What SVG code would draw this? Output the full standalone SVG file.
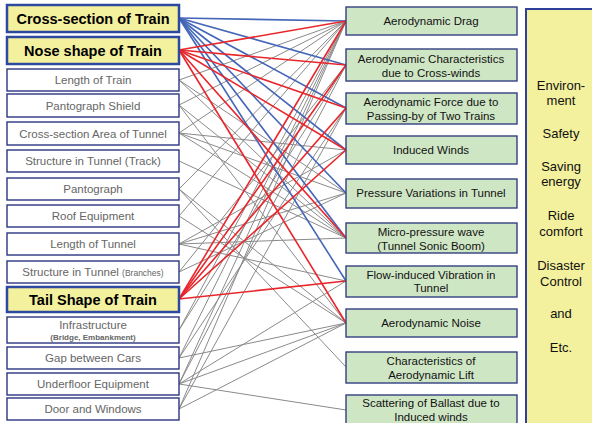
<svg xmlns="http://www.w3.org/2000/svg" width="592" height="423" viewBox="0 0 592 423">
<style>
.bg{fill:#ffffff}
.key rect{fill:#f3f09e;stroke:#2e4a9e;stroke-width:2.5}
.key text{font-family:"Liberation Sans",Arial,sans-serif;font-weight:bold;font-size:14.5px;fill:#000;text-anchor:middle}
.fac rect{fill:#ffffff;stroke:#2b3580;stroke-width:1.4}
.fac text{font-family:"Liberation Sans",Arial,sans-serif;font-size:11.5px;fill:#666;text-anchor:middle}
.fac .sm{font-size:8.5px}
.fac .smb{font-size:8px;font-weight:bold}
.eff rect{fill:#cfe6c5;stroke:#333f80;stroke-width:1.4}
.eff text{font-family:"Liberation Sans",Arial,sans-serif;font-size:11.5px;fill:#111;text-anchor:middle}
.goal rect{fill:#f3f09e;stroke:#2e3f9e;stroke-width:2}
.goal text{font-family:"Liberation Sans",Arial,sans-serif;font-size:13px;fill:#111;text-anchor:middle}
.g line{stroke:#8a8a8a;stroke-width:1}
.b line{stroke:#4466b8;stroke-width:1.6}
.r line{stroke:#e8262b;stroke-width:1.6}
</style>
<rect class="bg" x="0" y="0" width="592" height="423"/>

<g id="connectors">
  <g class="g">
    <line x1="179" y1="80" x2="346" y2="21"/>
    <line x1="179" y1="80" x2="346" y2="193"/>
    <line x1="179" y1="80" x2="346" y2="238"/>
    <line x1="179" y1="105" x2="346" y2="21"/>
    <line x1="179" y1="105" x2="346" y2="238"/>
    <line x1="179" y1="105" x2="346" y2="323"/>
    <line x1="179" y1="133" x2="346" y2="21"/>
    <line x1="179" y1="133" x2="346" y2="150"/>
    <line x1="179" y1="133" x2="346" y2="193"/>
    <line x1="179" y1="133" x2="346" y2="238"/>
    <line x1="179" y1="161" x2="346" y2="238"/>
    <line x1="179" y1="189" x2="346" y2="21"/>
    <line x1="179" y1="189" x2="346" y2="323"/>
    <line x1="179" y1="189" x2="346" y2="367"/>
    <line x1="179" y1="216" x2="346" y2="21"/>
    <line x1="179" y1="216" x2="346" y2="323"/>
    <line x1="179" y1="244" x2="346" y2="150"/>
    <line x1="179" y1="244" x2="346" y2="193"/>
    <line x1="179" y1="244" x2="346" y2="238"/>
    <line x1="179" y1="244" x2="346" y2="281"/>
    <line x1="179" y1="272" x2="346" y2="193"/>
    <line x1="179" y1="272" x2="346" y2="65"/>
    <line x1="179" y1="330" x2="346" y2="21"/>
    <line x1="179" y1="330" x2="346" y2="65"/>
    <line x1="179" y1="358" x2="346" y2="21"/>
    <line x1="179" y1="358" x2="346" y2="108"/>
    <line x1="179" y1="358" x2="346" y2="323"/>
    <line x1="179" y1="384" x2="346" y2="21"/>
    <line x1="179" y1="384" x2="346" y2="65"/>
    <line x1="179" y1="384" x2="346" y2="281"/>
    <line x1="179" y1="384" x2="346" y2="323"/>
    <line x1="179" y1="384" x2="346" y2="410"/>
    <line x1="179" y1="409" x2="346" y2="21"/>
    <line x1="179" y1="409" x2="346" y2="108"/>
    <line x1="179" y1="409" x2="346" y2="323"/>
  </g>
  <g class="b">
    <line x1="179" y1="18" x2="346" y2="21"/>
    <line x1="179" y1="18" x2="346" y2="65"/>
    <line x1="179" y1="18" x2="346" y2="108"/>
    <line x1="179" y1="18" x2="346" y2="150"/>
    <line x1="179" y1="18" x2="346" y2="193"/>
    <line x1="179" y1="18" x2="346" y2="238"/>
    <line x1="179" y1="18" x2="346" y2="281"/>
  </g>
  <g class="r">
    <line x1="179" y1="50" x2="346" y2="21"/>
    <line x1="179" y1="50" x2="346" y2="65"/>
    <line x1="179" y1="50" x2="346" y2="108"/>
    <line x1="179" y1="50" x2="346" y2="150"/>
    <line x1="179" y1="50" x2="346" y2="238"/>
    <line x1="179" y1="50" x2="346" y2="323"/>
    <line x1="179" y1="299" x2="346" y2="21"/>
    <line x1="179" y1="299" x2="346" y2="65"/>
    <line x1="179" y1="299" x2="346" y2="108"/>
    <line x1="179" y1="299" x2="346" y2="150"/>
    <line x1="179" y1="299" x2="346" y2="281"/>
  </g>
</g>

<g id="n-cross-section-train" class="key"><rect x="7" y="5" width="172" height="27"/><text x="93" y="24">Cross-section of Train</text></g>
<g id="n-nose-shape" class="key"><rect x="7" y="37" width="172" height="27"/><text x="93" y="56">Nose shape of Train</text></g>
<g id="n-length-train" class="fac"><rect x="7" y="69" width="172" height="22"/><text x="93" y="84">Length of Train</text></g>
<g id="n-pantograph-shield" class="fac"><rect x="7" y="94" width="172" height="23"/><text x="93" y="110">Pantograph Shield</text></g>
<g id="n-cross-section-tunnel" class="fac"><rect x="7" y="122" width="172" height="23"/><text x="93" y="138">Cross-section Area of Tunnel</text></g>
<g id="n-structure-track" class="fac"><rect x="7" y="150" width="172" height="22"/><text x="93" y="165">Structure in Tunnel (Track)</text></g>
<g id="n-pantograph" class="fac"><rect x="7" y="178" width="172" height="22"/><text x="93" y="193">Pantograph</text></g>
<g id="n-roof-equipment" class="fac"><rect x="7" y="205" width="172" height="22"/><text x="93" y="220">Roof Equipment</text></g>
<g id="n-length-tunnel" class="fac"><rect x="7" y="233" width="172" height="22"/><text x="93" y="248">Length of Tunnel</text></g>
<g id="n-structure-branches" class="fac"><rect x="7" y="261" width="172" height="22"/><text x="93" y="276">Structure in Tunnel <tspan class="sm">(Branches)</tspan></text></g>
<g id="n-tail-shape" class="key"><rect x="7" y="287" width="172" height="25"/><text x="93" y="305">Tail Shape of Train</text></g>
<g id="n-infrastructure" class="fac"><rect x="7" y="317" width="172" height="26"/><text x="93" y="329">Infrastructure</text><text class="smb" x="93" y="340">(Bridge, Embankment)</text></g>
<g id="n-gap-cars" class="fac"><rect x="7" y="347" width="172" height="22"/><text x="93" y="362">Gap between Cars</text></g>
<g id="n-underfloor" class="fac"><rect x="7" y="373" width="172" height="22"/><text x="93" y="388">Underfloor Equipment</text></g>
<g id="n-door-windows" class="fac"><rect x="7" y="398" width="172" height="22"/><text x="93" y="413">Door and Windows</text></g>

<g id="n-aero-drag" class="eff"><rect x="346" y="7" width="171" height="28"/><text x="431" y="25">Aerodynamic Drag</text></g>
<g id="n-cross-winds" class="eff"><rect x="346" y="49" width="171" height="32"/><text x="431" y="63">Aerodynamic Characteristics</text><text x="431" y="77">due to Cross-winds</text></g>
<g id="n-passing-by" class="eff"><rect x="346" y="93" width="171" height="31"/><text x="431" y="106">Aerodynamic Force due to</text><text x="431" y="120">Passing-by of Two Trains</text></g>
<g id="n-induced-winds" class="eff"><rect x="346" y="136" width="171" height="28"/><text x="431" y="154">Induced Winds</text></g>
<g id="n-pressure" class="eff"><rect x="346" y="179" width="171" height="29"/><text x="431" y="197">Pressure Variations in Tunnel</text></g>
<g id="n-micro-pressure" class="eff"><rect x="346" y="223" width="171" height="30"/><text x="431" y="236">Micro-pressure wave</text><text x="431" y="250">(Tunnel Sonic Boom)</text></g>
<g id="n-flow-vibration" class="eff"><rect x="346" y="266" width="171" height="31"/><text x="431" y="279">Flow-induced Vibration in</text><text x="431" y="292">Tunnel</text></g>
<g id="n-aero-noise" class="eff"><rect x="346" y="309" width="171" height="28"/><text x="431" y="327">Aerodynamic Noise</text></g>
<g id="n-aero-lift" class="eff"><rect x="346" y="352" width="171" height="31"/><text x="431" y="365">Characteristics of</text><text x="431" y="379">Aerodynamic Lift</text></g>
<g id="n-ballast" class="eff"><rect x="346" y="395" width="171" height="31"/><text x="431" y="407">Scattering of Ballast due to</text><text x="431" y="421">Induced winds</text></g>

<g id="n-goals" class="goal">
  <rect x="526" y="9" width="72" height="420"/>
  <text x="561" y="90">Environ-</text>
  <text x="561" y="105">ment</text>
  <text x="561" y="138">Safety</text>
  <text x="561" y="171">Saving</text>
  <text x="561" y="186">energy</text>
  <text x="561" y="220">Ride</text>
  <text x="561" y="236">comfort</text>
  <text x="561" y="270">Disaster</text>
  <text x="561" y="286">Control</text>
  <text x="561" y="318">and</text>
  <text x="561" y="352">Etc.</text>
</g>
</svg>
